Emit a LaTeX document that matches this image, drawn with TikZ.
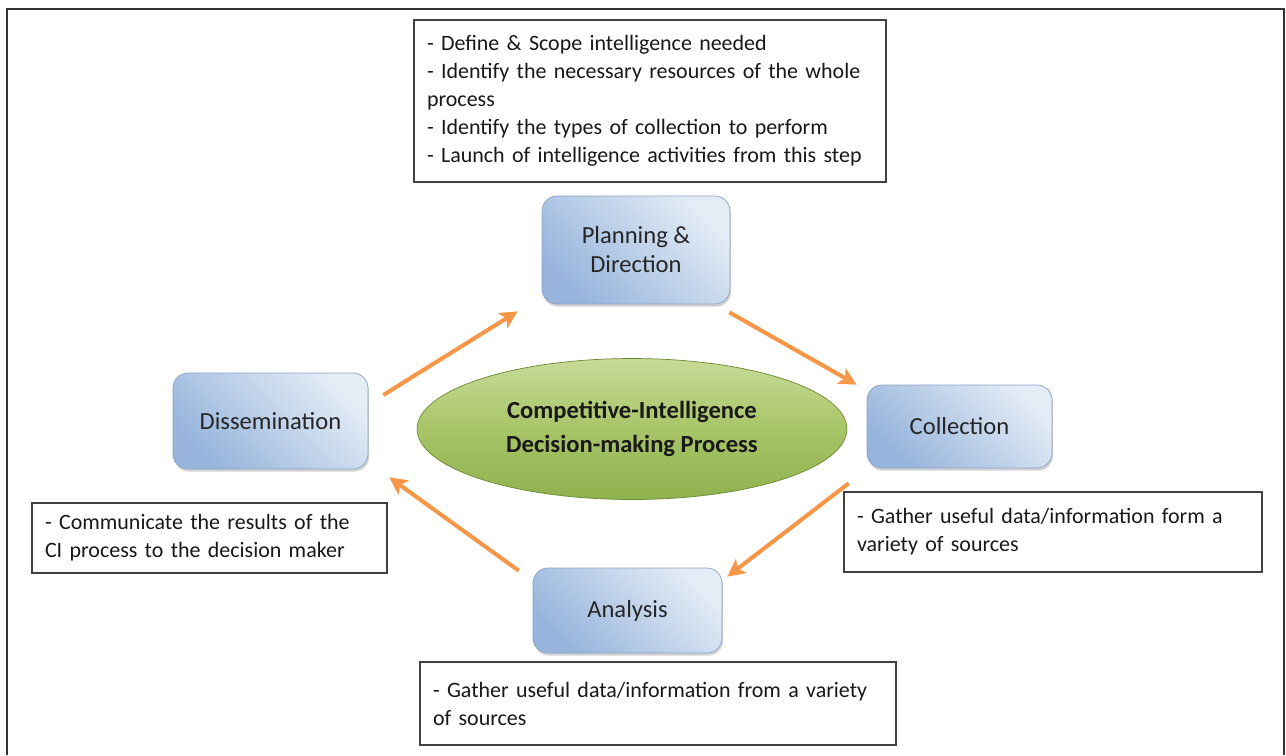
\documentclass[tikz,border=0pt]{standalone}
\usepackage{fontspec}
\setmainfont{Carlito}
\usetikzlibrary{shapes.geometric,shadows}
\usetikzlibrary{arrows.meta}

\definecolor{boxlight}{RGB}{228,236,246}
\definecolor{boxdark}{RGB}{150,180,220}
\definecolor{boxline}{RGB}{138,162,196}
\definecolor{hublight}{RGB}{200,219,152}
\definecolor{hubmid}{RGB}{168,197,104}
\definecolor{hubdark}{RGB}{142,178,78}
\definecolor{hubline}{RGB}{106,136,52}
\definecolor{flowcol}{RGB}{247,150,70}

\tikzset{
  stage/.style={
    % The shape:
    shape=rectangle,rounded corners=3mm,
    % The border:
    draw=boxline,
    % The filling:
    top color=boxlight,bottom color=boxdark,shading angle=-45,
    drop shadow={shadow xshift=0.6pt,shadow yshift=-1.5pt,opacity=0.35},
    % The text:
    align=center,text=black!85,font=\fontsize{14}{16.5}\selectfont
  }}
\tikzset{
	hub/.style={
		% The shape:
		ellipse,minimum width=8.6cm,minimum height=2.82cm,
		% The rest
		draw=hubline,top color=hublight,bottom color=hubdark,middle color=hubmid,
		align=center,text=black!90,font=\bfseries\fontsize{14}{19}\selectfont}}
\tikzset{
	note/.style={
		% The shape:
		rectangle,inner xsep=0.26cm,
		% The rest
		line width=1.1pt,draw=black!75,fill=white,
		drop shadow={shadow xshift=0.6pt,shadow yshift=-0.6pt,opacity=0.15},
		align=left,text=black!90,font=\fontsize{12.5}{16}\selectfont}}
\tikzset{
	flow/.style={-{Stealth[length=10pt,width=10pt,inset=2.5pt]},line width=2.3pt,draw=flowcol}}

\begin{document}
\begin{tikzpicture}[x=0.02cm,y=-0.02cm]
	\useasboundingbox (0,0) rectangle (1286,755);
	% Frame, open at the foot
	\draw[line width=1.2pt,black!80] (7,755) -- (7,9) -- (1284,9) -- (1284,755);
	% The centre
	\node[hub] (ci) at (632,429) {Competitive-Intelligence\\Decision-making Process};
	% The four steps
	\node[stage,minimum width=3.76cm,minimum height=2.16cm] (plan) at (636,250) {Planning \&\\Direction};
	\node[stage,minimum width=3.7cm,minimum height=1.66cm] (coll) at (959.5,426.5) {Collection};
	\node[stage,minimum width=3.78cm,minimum height=1.7cm] (ana) at (627.5,610.5) {Analysis};
	\node[stage,minimum width=3.9cm,minimum height=1.92cm] (diss) at (270.5,421) {Dissemination};
	% What each step does
	\node[note,text width=8.92cm,minimum height=3.24cm] (plannote) at (650,101)
		{- Define \& Scope intelligence needed\\- Identify the necessary resources of the whole\\process\\- Identify the types of collection to perform\\- Launch of intelligence activities from this step};
	\node[note,text width=7.84cm,minimum height=1.6cm] (collnote) at (1053,532)
		{- Gather useful data/information form a\\variety of sources};
	\node[note,text width=9cm,minimum height=1.66cm] (ananote) at (658,703.5)
		{- Gather useful data/information from a variety\\of sources};
	\node[note,text width=6.58cm,minimum height=1.4cm] (dissnote) at (209.5,538)
		{- Communicate the results of the\\CI process to the decision maker};
	% Arrows round the cycle
	\draw[flow] ([shift={(15,-26)}]diss.east) -- ([shift={(-24,7)}]plan.south west);
	\draw[flow] ([shift={(-1,8)}]plan.south east) -- ([shift={(-10,0)}]coll.north west);
	\draw[flow] ([shift={(-18,15)}]coll.south west) -- ([shift={(5,9)}]ana.north east);
	\draw[flow] ([shift={(-14,3)}]ana.north west) -- ([shift={(21,8)}]diss.south east);
\end{tikzpicture}
\end{document}
